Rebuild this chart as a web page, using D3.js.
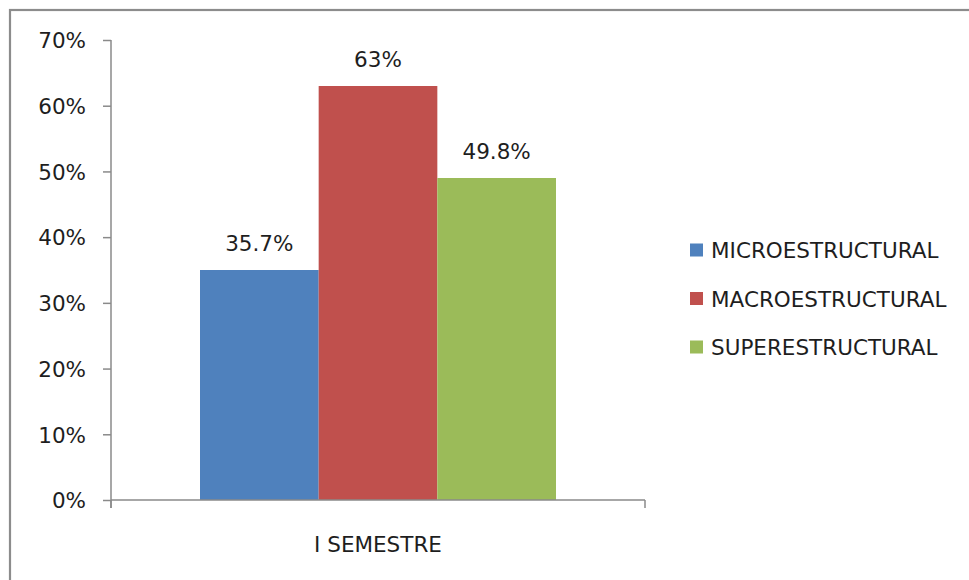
<!DOCTYPE html>
<html>
<head>
<meta charset="utf-8">
<script src="https://cdn.jsdelivr.net/npm/d3@7"></script>
<style>
  html, body { margin: 0; padding: 0; background: #fff; }
  svg { display: block; }
  text { font-family: "DejaVu Sans", sans-serif; fill: #1e1e1e; }
</style>
</head>
<body>
<svg id="chart" width="969" height="580"></svg>
<script>
// ---- data ----
const categories = ["I SEMESTRE"];
const seriesNames = ["MICROESTRUCTURAL", "MACROESTRUCTURAL", "SUPERESTRUCTURAL"];
const seriesValues = [0.35, 0.63, 0.49];          // bar heights as drawn
const seriesLabels = ["35.7%", "63%", "49.8%"];   // data label text as shown
const seriesColors = ["#4f81bd", "#c0504d", "#9bbb59"];
const yTicks = [0, 0.1, 0.2, 0.3, 0.4, 0.5, 0.6, 0.7];

const svg = d3.select("#chart");
const plot = { left: 111, right: 645, top: 40, bottom: 500 };
const axisColor = "#8a8a8a";
const fs = 21.5;

// outer border (right/bottom edges fall outside the frame)
svg.append("rect")
  .attr("x", 10).attr("y", 10)
  .attr("width", 1000).attr("height", 1000)
  .attr("fill", "#fff")
  .attr("stroke", "#8c8c8c").attr("stroke-width", 2.2);

const y = d3.scaleLinear().domain([0, 0.7]).range([plot.bottom, plot.top]);
const x0 = d3.scaleBand().domain(categories).range([plot.left, plot.right]).padding(0);
const x1 = d3.scaleBand().domain(seriesNames).range([0, x0.bandwidth()])
  .paddingInner(0).paddingOuter(0.75);

// bars
const data = seriesNames.map((s, i) => ({ cat: categories[0], name: s, value: seriesValues[i], label: seriesLabels[i], color: seriesColors[i] }));
const g = svg.append("g");
g.selectAll("rect.bar").data(data).enter().append("rect")
  .attr("class", "bar")
  .attr("x", d => x0(d.cat) + x1(d.name))
  .attr("y", d => y(d.value))
  .attr("width", x1.bandwidth())
  .attr("height", d => y(0) - y(d.value))
  .attr("fill", d => d.color);

// data labels
g.selectAll("text.lbl").data(data).enter().append("text")
  .attr("class", "lbl")
  .attr("x", d => x0(d.cat) + x1(d.name) + x1.bandwidth() / 2)
  .attr("y", d => y(d.value) - 19.5)
  .attr("text-anchor", "middle")
  .style("font-size", fs + "px")
  .text(d => d.label);

// y axis
const yAxis = d3.axisLeft(y).tickValues(yTicks).tickFormat(d3.format(".0%"))
  .tickSize(8).tickPadding(17);
const yg = svg.append("g").attr("transform", `translate(${plot.left},0)`).call(yAxis);
yg.select(".domain").remove();
yg.selectAll(".tick line").attr("stroke", axisColor).attr("stroke-width", 1.5);
yg.selectAll(".tick text").style("font-size", fs + "px").style("font-family", "DejaVu Sans")
  .attr("fill", "#1e1e1e").attr("dy", "0.36em");
yg.append("line").attr("x1", 0).attr("x2", 0)
  .attr("y1", y(0.7)).attr("y2", y(0) + 8)
  .attr("stroke", axisColor).attr("stroke-width", 1.5);

// x axis
const xg = svg.append("g");
xg.append("line").attr("x1", plot.left).attr("x2", plot.right)
  .attr("y1", y(0)).attr("y2", y(0))
  .attr("stroke", axisColor).attr("stroke-width", 1.5);
const boundaries = [x0.range()[0]].concat(categories.map(c => x0(c) + x0.bandwidth()));
xg.selectAll("line.xt").data(boundaries).enter().append("line")
  .attr("class", "xt")
  .attr("x1", d => d).attr("x2", d => d)
  .attr("y1", y(0)).attr("y2", y(0) + 8)
  .attr("stroke", axisColor).attr("stroke-width", 1.5);
xg.selectAll("text.cat").data(categories).enter().append("text")
  .attr("class", "cat")
  .attr("x", d => x0(d) + x0.bandwidth() / 2)
  .attr("y", 552)
  .attr("text-anchor", "middle")
  .style("font-size", fs + "px")
  .text(d => d);

// legend
const legend = svg.append("g").attr("transform", "translate(690,243.5)");
const items = legend.selectAll("g").data(data).enter().append("g")
  .attr("transform", (d, i) => `translate(0,${i * 48.5})`);
items.append("rect").attr("width", 13).attr("height", 13).attr("fill", d => d.color);
items.append("text").attr("x", 21).attr("y", 14.5)
  .style("font-size", fs + "px")
  .text(d => d.name);
</script>
</body>
</html>
